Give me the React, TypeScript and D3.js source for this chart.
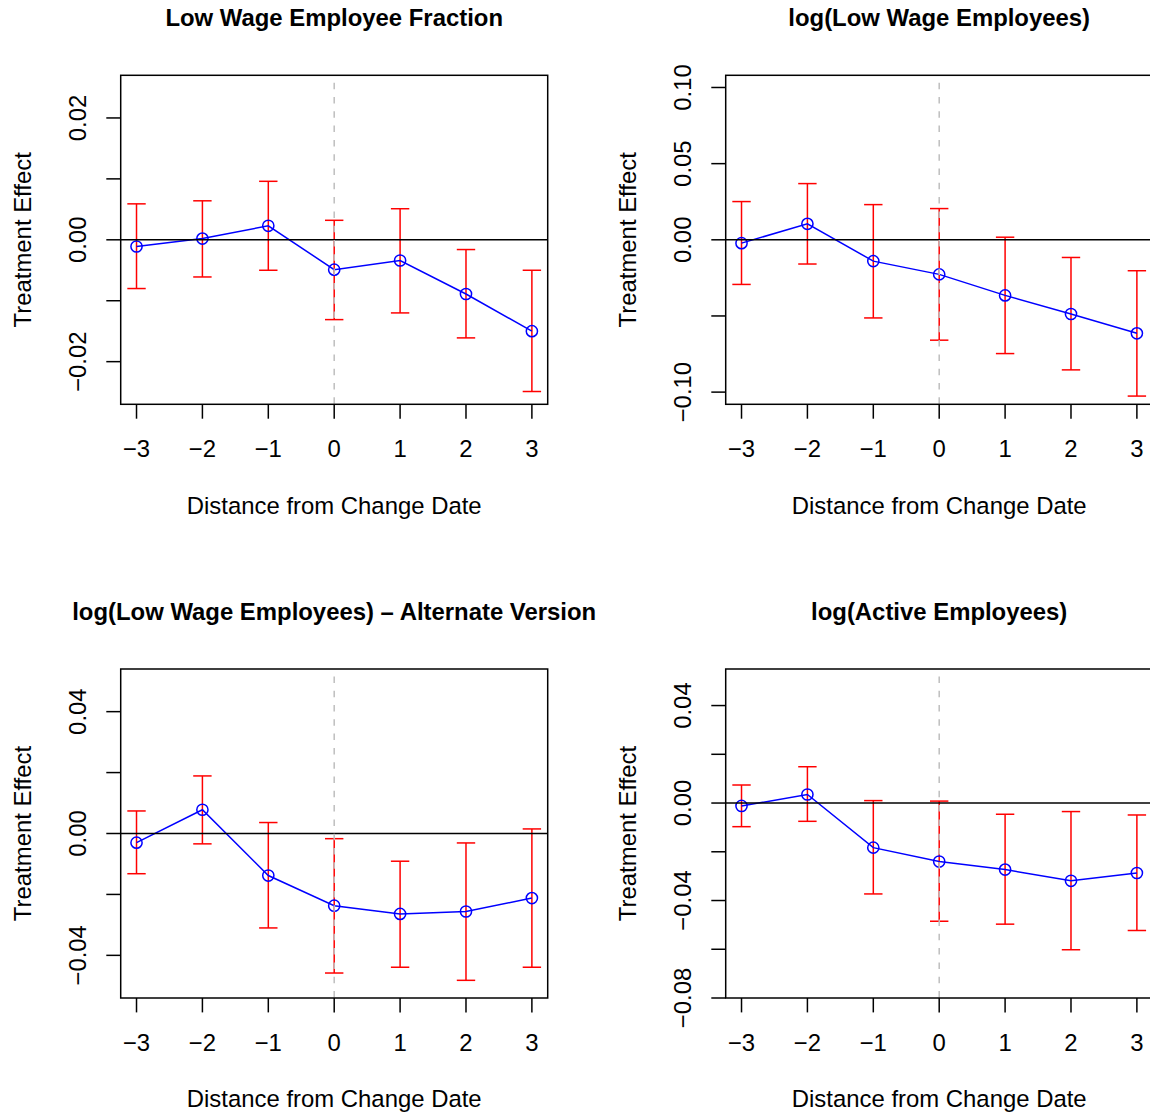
import React from "react";
import * as d3 from "d3";

// Event-time periods relative to the change date
const periods = [-3, -2, -1, 0, 1, 2, 3];
const xTickLabels = ["\u22123", "\u22122", "\u22121", "0", "1", "2", "3"];

// Low wage employee fraction
const fractionEst = [-0.0011, 0.0002, 0.0023, -0.0049, -0.0034, -0.0089, -0.015];
const fractionLo = [-0.008, -0.0061, -0.005, -0.0131, -0.012, -0.0161, -0.0249];
const fractionHi = [0.0059, 0.0064, 0.0096, 0.0032, 0.0051, -0.0016, -0.005];

// log(low wage employees)
const logLowEst = [-0.0022, 0.0105, -0.014, -0.0227, -0.0365, -0.0487, -0.0614];
const logLowLo = [-0.0293, -0.0159, -0.0513, -0.0659, -0.0747, -0.0854, -0.1026];
const logLowHi = [0.0251, 0.0369, 0.0231, 0.0205, 0.0017, -0.0116, -0.0203];

// log(low wage employees), alternate version
const altEst = [-0.003, 0.0078, -0.0138, -0.0237, -0.0264, -0.0256, -0.0212];
const altLo = [-0.0132, -0.0034, -0.031, -0.0458, -0.0439, -0.0482, -0.0439];
const altHi = [0.0074, 0.0189, 0.0036, -0.0017, -0.0091, -0.0031, 0.0015];

// log(active employees)
const activeEst = [-0.0012, 0.0035, -0.0183, -0.024, -0.0273, -0.0319, -0.0287];
const activeLo = [-0.0097, -0.0075, -0.0373, -0.0485, -0.0497, -0.0602, -0.0523];
const activeHi = [0.0074, 0.0149, 0.001, 0.0008, -0.0046, -0.0035, -0.0049];

// y limits and ticks for each panel
const fractionLim = [-0.025, 0.025];
const fractionTicks = [-0.02, -0.01, 0, 0.01, 0.02];
const fractionTickLabels = ["\u22120.02", "", "0.00", "", "0.02"];

const logLowLim = [-0.1, 0.1];
const logLowTicks = [-0.1, -0.05, 0, 0.05, 0.1];
const logLowTickLabels = ["\u22120.10", "", "0.00", "0.05", "0.10"];

const altLim = [-0.05, 0.05];
const altTicks = [-0.04, -0.02, 0, 0.02, 0.04];
const altTickLabels = ["\u22120.04", "", "0.00", "", "0.04"];

const activeLim = [-0.075, 0.05];
const activeTicks = [-0.08, -0.06, -0.04, -0.02, 0, 0.02, 0.04];
const activeTickLabels = ["\u22120.08", "", "\u22120.04", "", "0.00", "", "0.04"];

const titles = [
  "Low Wage Employee Fraction",
  "log(Low Wage Employees)",
  "log(Low Wage Employees) \u2013 Alternate Version",
  "log(Active Employees)",
];

const xLabel = "Distance from Change Date";
const yLabel = "Treatment Effect";

const FONT = "'Liberation Sans', Arial, Helvetica, sans-serif";
const FS = 23.9;
const PW = 427;
const PH = 329;
const LW = 1.5;

type PanelSpec = {
  title: string;
  est: number[];
  lo: number[];
  hi: number[];
  lim: number[];
  ticks: number[];
  tickLabels: string[];
  left: number;
  top: number;
};

const panels: PanelSpec[] = [
  { title: titles[0], est: fractionEst, lo: fractionLo, hi: fractionHi, lim: fractionLim, ticks: fractionTicks, tickLabels: fractionTickLabels, left: 120.7, top: 75.3 },
  { title: titles[1], est: logLowEst, lo: logLowLo, hi: logLowHi, lim: logLowLim, ticks: logLowTicks, tickLabels: logLowTickLabels, left: 725.7, top: 75.3 },
  { title: titles[2], est: altEst, lo: altLo, hi: altHi, lim: altLim, ticks: altTicks, tickLabels: altTickLabels, left: 120.7, top: 669 },
  { title: titles[3], est: activeEst, lo: activeLo, hi: activeHi, lim: activeLim, ticks: activeTicks, tickLabels: activeTickLabels, left: 725.7, top: 669 },
];

function Panel({ p }: { p: PanelSpec }) {
  const xr = periods[periods.length - 1] - periods[0];
  const x = d3
    .scaleLinear()
    .domain([periods[0] - 0.04 * xr, periods[periods.length - 1] + 0.04 * xr])
    .range([p.left, p.left + PW]);
  const yr = p.lim[1] - p.lim[0];
  const y = d3
    .scaleLinear()
    .domain([p.lim[0] - 0.04 * yr, p.lim[1] + 0.04 * yr])
    .range([p.top + PH, p.top]);
  const bottom = p.top + PH;
  const right = p.left + PW;
  const cx = p.left + PW / 2;
  const cy = p.top + PH / 2;
  const line = d3
    .line<number>()
    .x((_, i) => x(periods[i]))
    .y((d) => y(d));
  const cap = 9.2;
  const tick = 14.4;

  return (
    <g>
      <text x={cx} y={p.top - 49.5} textAnchor="middle" fontWeight="bold" fontSize={FS} fontFamily={FONT}>
        {p.title}
      </text>
      {/* confidence intervals */}
      {periods.map((d, i) => (
        <g key={"eb" + i} stroke="#FF0000" strokeWidth={LW}>
          <line x1={x(d)} x2={x(d)} y1={y(p.lo[i])} y2={y(p.hi[i])} />
          <line x1={x(d) - cap} x2={x(d) + cap} y1={y(p.lo[i])} y2={y(p.lo[i])} />
          <line x1={x(d) - cap} x2={x(d) + cap} y1={y(p.hi[i])} y2={y(p.hi[i])} />
        </g>
      ))}
      {/* point estimates */}
      <path d={line(p.est) || ""} fill="none" stroke="#0000FF" strokeWidth={LW} />
      {periods.map((d, i) => (
        <circle key={"pt" + i} cx={x(d)} cy={y(p.est[i])} r={5.6} fill="none" stroke="#0000FF" strokeWidth={LW} />
      ))}
      {/* reference lines */}
      <line x1={p.left} x2={right} y1={y(0)} y2={y(0)} stroke="#000" strokeWidth={LW} />
      <line
        x1={x(0)}
        x2={x(0)}
        y1={p.top}
        y2={bottom}
        stroke="#BEBEBE"
        strokeWidth={LW}
        strokeDasharray="6.5 7.8"
        strokeDashoffset={6.9}
      />
      {/* box */}
      <rect x={p.left} y={p.top} width={PW} height={PH} fill="none" stroke="#000" strokeWidth={LW} />
      {/* x axis */}
      {periods.map((d, i) => (
        <g key={"xt" + i}>
          <line x1={x(d)} x2={x(d)} y1={bottom} y2={bottom + tick} stroke="#000" strokeWidth={LW} />
          <text x={x(d)} y={bottom + 52.7} textAnchor="middle" fontSize={FS} fontFamily={FONT}>
            {xTickLabels[i]}
          </text>
        </g>
      ))}
      <text x={cx} y={bottom + 109.2} textAnchor="middle" fontSize={FS} fontFamily={FONT}>
        {xLabel}
      </text>
      {/* y axis */}
      {p.ticks.map((t, i) => (
        <g key={"yt" + i}>
          <line x1={p.left - tick} x2={p.left} y1={y(t)} y2={y(t)} stroke="#000" strokeWidth={LW} />
          {p.tickLabels[i] !== "" && (
            <text
              transform={`translate(${p.left - 34.7},${y(t)}) rotate(-90)`}
              textAnchor="middle"
              fontSize={FS}
              fontFamily={FONT}
            >
              {p.tickLabels[i]}
            </text>
          )}
        </g>
      ))}
      <text
        transform={`translate(${p.left - 90},${cy}) rotate(-90)`}
        textAnchor="middle"
        fontSize={FS}
        fontFamily={FONT}
      >
        {yLabel}
      </text>
    </g>
  );
}

export default function App() {
  return (
    <svg
      width={1150}
      height={1112}
      style={{ position: "absolute", left: 0, top: 0, background: "#fff", display: "block" }}
    >
      <rect x={0} y={0} width={1150} height={1112} fill="#fff" />
      {panels.map((p, i) => (
        <Panel key={i} p={p} />
      ))}
    </svg>
  );
}
